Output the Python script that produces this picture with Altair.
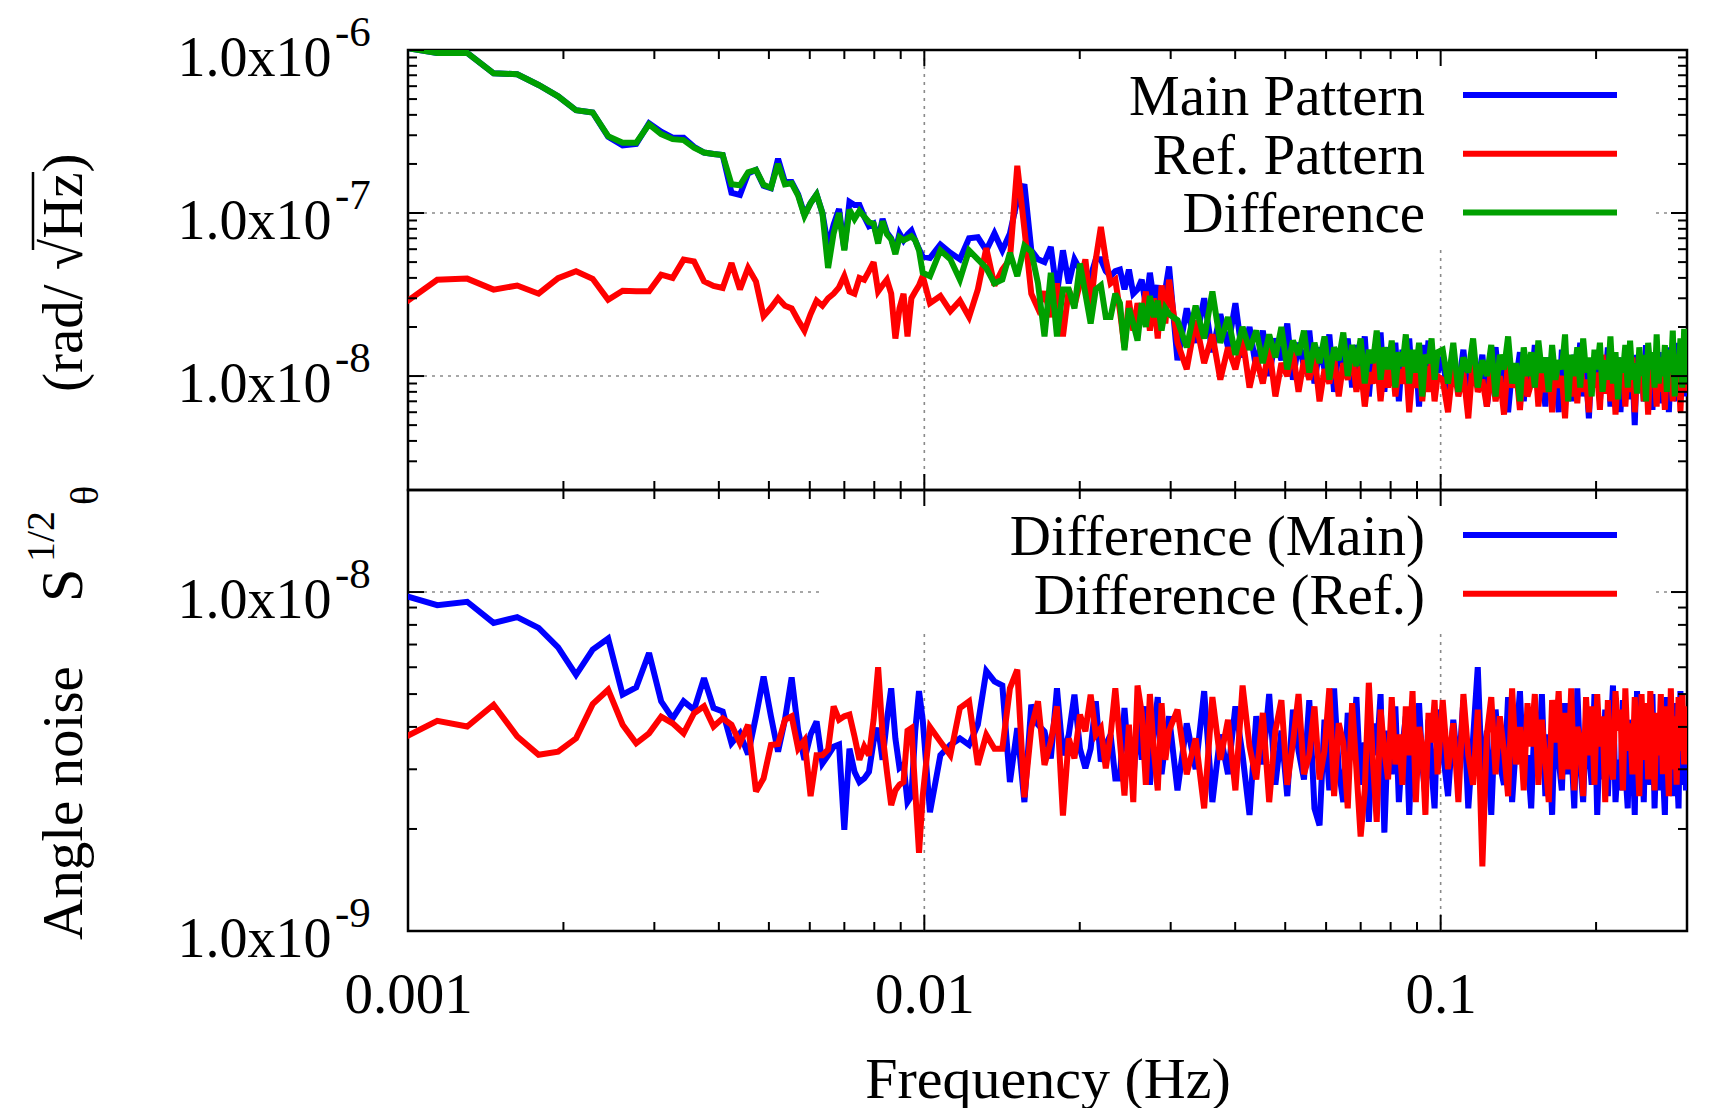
import altair as alt
import pandas as pd

FONT = "Liberation Serif"

# ---------------- data ----------------
# FFT bin spacing of the spectra (Hz) and the bins that are plotted
BIN_HZ = 1.0 / 6144.0
BINS = (list(range(6, 62)) + list(range(63, 184, 3)) + list(range(190, 607, 8))
        + list(range(620, 1836, 15)) + [1845])
FREQ_HZ = [k * BIN_HZ for k in BINS]

TOP_UNIT = 1e-8   # top panel values are in units of 1e-8 rad/sqrt(Hz)
BOT_UNIT = 1e-9   # bottom panel values are in units of 1e-9 rad/sqrt(Hz)

TOP_MAIN = [
    104, 96, 96, 72, 71, 61, 52, 42.7, 41.4, 29.4,
    26, 26.5, 35.5, 31.5, 29, 29, 25.5, 23.5, 23, 22.7,
    13.3, 12.9, 17.5, 18.4, 14.7, 14.2, 21.5, 15.5, 15.5, 13,
    9.8, 11.5, 13, 10, 6.2, 8.5, 10.6, 6.0, 11.7, 11.2,
    11.2, 9.5, 8.3, 8.6, 6.8, 9.2, 7.6, 7.0, 5.8, 7.5,
    6.8, 7.4, 7.8, 6.8, 6.0, 5.4,
    5.3, 6.4, 5.7, 5.2, 7.0, 7.1, 5.9, 7.5, 5.9, 7.5,
    12, 15, 5.9, 5.2, 5.0, 6.2, 3.2, 5.9, 3.7, 5.2,
    4.5, 3.7, 4.1, 5.2, 5.2, 4.4, 4.1, 4.4, 4.5, 3.4,
    4.5, 3.2, 3.4, 3.9, 2.7, 4.3, 2.9, 3.6, 2.5, 3.4,
    4.7,
    1.25, 2.6, 1.6, 3.0, 1.4, 2.4, 1.5, 2.8, 1.3, 2.0,
    1.1, 1.9, 1.0, 1.7, 1.25, 2.1, 0.95, 1.6, 1.15, 1.9,
    0.9, 1.5, 1.1, 1.8, 0.8, 1.45, 1.2, 1.7, 0.85, 1.55,
    1.05, 1.75, 0.75, 1.4, 1.15, 1.85, 0.8, 1.5, 1.0, 1.6,
    0.7, 1.45, 1.1, 1.7, 0.85, 1.35, 0.65, 1.55, 1.0, 1.65,
    0.8, 1.4, 1.05,
    1.3, 0.75, 1.15, 0.85, 1.45, 0.7, 1.2, 0.9, 1.35, 0.65,
    1.05, 1.5, 0.8, 1.2, 0.6, 1.1, 0.95, 1.4, 0.7, 1.25,
    0.85, 1.55, 0.75, 1.1, 0.65, 1.3, 0.9, 1.2, 0.6, 1.45,
    0.8, 1.15, 0.7, 1.35, 0.95, 1.6, 0.75, 1.05, 0.55, 1.25,
    0.85, 1.4, 0.7, 1.2, 0.9, 1.5, 0.65, 1.1, 0.8, 1.3,
    0.6, 1.25, 0.9, 1.45, 0.72, 1.15, 0.5, 1.35, 0.85, 1.2,
    0.7, 1.55, 0.8, 1.1, 0.62, 1.3, 0.9, 1.4, 0.68, 1.2,
    0.85, 1.5, 0.6, 1.15, 0.95, 1.35, 0.7, 1.6, 0.8, 1.25,
    0.75, 1.45, 1.1,
]

TOP_REF = [
    2.75, 3.9, 3.96, 3.39, 3.59, 3.2, 3.99, 4.39, 3.95, 2.94,
    3.34, 3.31, 3.31, 4.19, 4.0, 5.18, 5.05, 3.81, 3.57, 3.47,
    4.93, 3.4, 4.6, 3.8, 2.33, 2.62, 3.0, 2.7, 2.6, 2.2,
    1.9, 2.4, 2.9, 2.7, 3.0, 3.2, 3.5, 4.1, 3.3, 3.2,
    4.0, 3.9, 4.4, 5.0, 3.3, 3.6, 3.9, 3.2, 1.7, 2.6,
    3.2, 1.75, 3.0, 3.3, 3.6, 4.1,
    2.8, 3.1, 2.5, 2.9, 2.3, 3.4, 6.1, 3.6, 4.5, 5.2,
    19.5, 8.0, 3.2, 2.6, 3.3, 2.3, 3.7, 1.75, 3.4, 2.7,
    3.7, 5.2, 2.6, 5.2, 8.2, 5.2, 3.7, 3.9, 2.5, 1.5,
    2.9, 1.9, 2.8, 2.2, 3.3, 1.9, 3.0, 1.7, 3.6, 2.1,
    3.9,
    1.6, 1.1, 2.2, 1.2, 1.8, 0.95, 1.5, 1.1, 1.7, 0.85,
    1.3, 0.9, 1.5, 0.75, 1.2, 1.0, 1.4, 0.8, 1.25, 0.95,
    1.35, 0.7, 1.1, 0.9, 1.3, 0.75, 1.2, 0.95, 1.4, 0.8,
    1.15, 0.65, 1.05, 0.9, 1.3, 0.7, 1.2, 0.85, 1.35, 0.75,
    1.1, 0.9, 1.25, 0.6, 1.05, 0.85, 1.3, 0.7, 1.15, 0.8,
    1.2, 0.7, 1.0,
    0.95, 0.6, 1.2, 0.75, 1.05, 0.55, 1.3, 0.8, 0.95, 0.65,
    1.15, 0.7, 1.0, 0.58, 1.25, 0.85, 1.1, 0.62, 1.2, 0.75,
    0.9, 1.35, 0.65, 1.05, 0.8, 1.2, 0.6, 1.15, 0.85, 1.0,
    0.55, 1.25, 0.75, 1.1, 0.68, 1.3, 0.8, 0.95, 0.6, 1.2,
    0.85, 1.05, 0.62, 1.35, 0.78, 1.15, 0.7, 1.25, 0.58, 1.0,
    0.9, 1.2, 0.65, 1.1, 0.8, 1.3, 0.6, 1.05, 0.85, 1.2,
    0.7, 1.15, 0.58, 1.25, 0.9, 1.05, 0.65, 1.3, 0.8, 1.1,
    0.62, 1.2, 0.85, 1.0, 0.7, 1.35, 0.75, 1.15, 0.6, 1.25,
    0.9, 1.4, 0.8,
]

TOP_DIFF = [
    104, 96, 96, 72, 71, 61, 52, 42.7, 41.4, 29.6,
    27, 27, 35, 30.5, 28.4, 28, 25.2, 23.5, 23, 22.7,
    15, 14.8, 17.8, 18.4, 14.9, 14.3, 20, 15, 15.2, 12.8,
    9.6, 11.5, 13, 10, 4.6, 7.5, 10, 5.9, 10.5, 9.2,
    10.3, 9.5, 8.8, 8.6, 6.5, 8.9, 7.4, 6.9, 5.6, 7.1,
    6.8, 7.0, 7.2, 6.8, 5.9, 4.3,
    4.1, 5.9, 5.2, 3.9, 5.9, 5.2, 4.6, 3.7, 3.9, 5.7,
    4.1, 6.3, 5.8, 3.7, 1.75, 4.3, 1.75, 3.4, 3.4, 2.6,
    4.9, 3.2, 2.1, 3.4, 3.6, 2.3, 2.3, 3.2, 2.8, 1.44,
    2.6, 2.1, 1.65, 2.8, 2.0, 3.1, 2.3, 2.9, 1.9, 2.6,
    2.4,
    2.2, 1.5, 2.7, 1.7, 3.3, 1.6, 2.3, 1.35, 2.0, 1.45,
    1.9, 1.2, 1.8, 1.3, 2.0, 1.1, 1.65, 1.35, 1.9, 1.05,
    1.6, 1.2, 1.75, 0.95, 1.5, 1.25, 1.85, 1.0, 1.55, 1.15,
    1.7, 0.9, 1.45, 1.2, 1.9, 0.95, 1.5, 1.1, 1.65, 0.85,
    1.4, 1.15, 1.8, 0.9, 1.45, 1.05, 1.6, 0.75, 1.35, 1.2,
    1.7, 0.95, 1.4,
    1.45, 0.9, 1.6, 0.8, 1.3, 1.05, 1.7, 0.85, 1.25, 1.0,
    1.55, 0.75, 1.35, 1.1, 1.75, 0.9, 1.2, 0.7, 1.5, 1.0,
    1.4, 0.85, 1.65, 1.05, 1.3, 0.8, 1.55, 0.95, 1.25, 1.1,
    1.8, 0.7, 1.35, 1.0, 1.5, 0.85, 1.7, 1.05, 1.3, 0.75,
    1.45, 1.1, 1.6, 0.8, 1.25, 0.95, 1.75, 0.9, 1.4, 0.72,
    1.3, 1.05, 1.55, 0.85, 1.65, 0.95, 1.2, 0.78, 1.5, 1.0,
    1.35, 0.7, 1.6, 1.1, 1.4, 0.85, 1.8, 0.9, 1.3, 1.0,
    1.55, 0.8, 1.45, 1.05, 1.9, 0.75, 1.35, 1.0, 1.7, 0.85,
    1.95, 0.9, 1.2,
]

BOT_MAIN = [
    9.8, 9.15, 9.36, 8.11, 8.43, 7.84, 6.87, 5.7, 6.76, 7.29,
    4.98, 5.23, 6.61, 4.76, 4.24, 4.76, 4.49, 5.57, 4.55, 4.44,
    3.58, 3.83, 3.32, 4.3, 5.63, 4.3, 3.38, 4.2, 5.6, 3.9,
    3.2, 3.8, 4.15, 3.12, 3.3, 3.5, 3.55, 1.99, 3.45, 2.95,
    2.75, 2.82, 2.95, 3.63, 3.97, 3.2, 4.2, 5.2, 3.7, 3.03,
    3.1, 2.4, 2.5, 3.9, 5.1, 4.2,
    2.24, 3.3, 3.54, 3.7, 3.54, 4.06, 5.85, 5.45, 5.3, 2.75,
    3.97, 2.4, 4.65, 4.06, 3.88, 3.23, 5.2, 3.3, 3.79, 4.98,
    3.45, 3.02, 3.45, 4.76, 3.16, 3.54, 3.79, 2.82, 2.82, 4.55,
    3.09, 2.75, 4.25, 3.2, 4.6, 2.7, 3.9, 4.9, 2.9, 3.6,
    4.3,
    2.6, 4.1, 3.0, 5.1, 2.4, 3.8, 2.9, 4.6, 3.3, 2.2,
    4.3, 3.1, 5.0, 2.7, 3.9, 2.5, 4.5, 3.4, 2.8, 4.8,
    2.3, 2.05, 4.2, 2.6, 5.2, 3.0, 2.4, 4.4, 3.2, 4.9,
    2.7, 3.6, 2.1, 4.1, 3.3, 5.0, 1.95, 3.9, 2.9, 4.6,
    2.4, 3.5, 4.3, 2.2, 3.8, 2.8, 4.7, 3.1, 2.5, 4.2,
    3.0, 2.3, 4.5,
    3.4, 2.5, 4.2, 2.9, 4.8, 2.3, 3.7, 6.0, 2.6, 3.9,
    2.2, 4.5, 3.1, 2.7, 4.9, 2.4, 3.6, 5.1, 2.8, 3.3,
    2.3, 4.4, 3.0, 5.0, 2.5, 3.8, 2.2, 4.6, 3.2, 2.6,
    4.7, 2.9, 3.5, 2.3, 5.2, 3.1, 2.4, 4.3, 3.4, 2.7,
    5.0, 2.2, 3.9, 2.8, 4.5, 2.5, 3.7, 5.3, 2.4, 3.2,
    2.6, 4.8, 3.0, 2.3, 4.2, 3.5, 2.2, 5.1, 2.9, 3.6,
    2.4, 4.6, 3.2, 2.7, 5.0, 2.3, 3.8, 2.6, 4.4, 3.0,
    2.2, 4.9, 2.8, 3.6, 2.5, 4.7, 3.1, 2.3, 5.1, 2.7,
    3.9, 2.6, 4.4,
]

BOT_REF = [
    3.7, 4.17, 4.01, 4.65, 3.75, 3.31, 3.38, 3.7, 4.67, 5.15,
    4.06, 3.58, 3.83, 4.29, 4.1, 3.83, 4.39, 4.6, 4.01, 4.24,
    4.06, 3.58, 4.06, 2.58, 2.82, 3.54, 3.56, 4.2, 4.3, 3.45,
    3.65, 2.5, 3.3, 3.3, 3.43, 4.6, 4.2, 4.3, 4.35, 3.75,
    3.2, 3.5, 3.3, 4.2, 6.0, 3.8, 2.95, 2.35, 2.6, 2.7,
    2.75, 3.9, 3.97, 2.6, 1.7, 2.5,
    4.0, 3.62, 3.3, 4.55, 4.76, 3.09, 3.79, 3.45, 3.45, 5.2,
    5.9, 2.48, 3.97, 4.76, 3.09, 3.62, 4.6, 2.19, 3.7, 3.23,
    4.35, 3.88, 4.98, 3.79, 3.97, 3.02, 3.79, 5.2, 3.62, 2.51,
    4.06, 2.4, 5.3, 4.4, 2.7, 5.0, 3.4, 2.6, 4.7, 3.2,
    3.9,
    4.5, 2.9, 3.7, 2.3, 4.9, 3.2, 4.2, 2.6, 5.3, 3.5,
    2.8, 4.4, 2.4, 3.9, 4.8, 2.7, 3.6, 5.0, 2.9, 3.3,
    4.6, 2.8, 3.4, 5.2, 2.5, 4.1, 3.6, 2.3, 4.7, 3.0,
    1.9, 2.6, 5.4, 3.2, 2.1, 4.5, 3.4, 2.8, 4.9, 3.1,
    3.8, 2.7, 4.6, 3.3, 5.1, 2.4, 4.0, 3.5, 2.2, 4.4,
    3.6, 4.8, 2.9,
    4.8, 3.0, 4.1, 2.4, 5.0, 3.3, 2.7, 4.5, 1.55, 3.8,
    4.9, 2.9, 4.3, 3.4, 2.5, 5.2, 3.1, 4.0, 2.6, 4.7,
    3.5, 5.0, 2.7, 4.2, 3.2, 2.4, 4.8, 3.6, 5.1, 2.8,
    4.4, 3.0, 5.2, 2.6, 4.0, 3.7, 2.5, 4.9, 3.3, 4.6,
    2.7, 5.0, 3.5, 4.3, 2.4, 4.8, 3.1, 2.8, 5.1, 3.9,
    4.5, 2.6, 5.2, 3.4, 4.1, 2.9, 4.9, 3.6, 2.5, 5.0,
    3.2, 4.7, 2.8, 5.1, 3.8, 2.6, 4.4, 3.3, 5.0, 2.9,
    4.6, 3.5, 2.5, 5.2, 3.0, 4.3, 2.7, 4.9, 3.4, 5.0,
    3.1, 4.6, 3.8,
]

TOP_NAMES = ["Main Pattern", "Ref. Pattern", "Difference"]
TOP_COLORS = ["#0000ff", "#ff0000", "#00a000"]
BOT_NAMES = ["Difference (Main)", "Difference (Ref.)"]
BOT_COLORS = ["#0000ff", "#ff0000"]

X_MAJOR = [0.001, 0.01, 0.1]
X_MINOR = [0.002, 0.003, 0.004, 0.005, 0.006, 0.007, 0.008, 0.009,
           0.02, 0.03, 0.04, 0.05, 0.06, 0.07, 0.08, 0.09, 0.2]
Y_TOP_MAJOR = [1e-6, 1e-7, 1e-8]
Y_TOP_EXP = ["-6", "-7", "-8"]
Y_TOP_MINOR = [3e-9, 4e-9, 5e-9, 6e-9, 7e-9, 8e-9, 9e-9,
               2e-8, 3e-8, 4e-8, 5e-8, 6e-8, 7e-8, 8e-8, 9e-8,
               2e-7, 3e-7, 4e-7, 5e-7, 6e-7, 7e-7, 8e-7, 9e-7]
Y_BOT_MAJOR = [1e-8, 1e-9]
Y_BOT_EXP = ["-8", "-9"]
Y_BOT_MINOR = [2e-9, 3e-9, 4e-9, 5e-9, 6e-9, 7e-9, 8e-9, 9e-9]
TOP_GRID_Y = [1e-7, 1e-8]
BOT_GRID_Y = [1e-8]
GRID_X = [0.01, 0.1]

# ---------------- layout / style ----------------
W = 1279
H_TOP = 440
H_BOT = 441
TICK_MAJOR = 16
TICK_MINOR = 9
LINE_W = 6
LEG_FONT = 57
LEG_TEXT_X = 1017
LEG_LINE_X0 = 1055
LEG_LINE_X1 = 1209
LEG_Y0 = 45
LEG_DY = 58.7

X_SCALE = alt.Scale(type="log", domain=[0.001, 0.3], nice=False)
Y_TOP_SCALE = alt.Scale(type="log", domain=[2e-9, 1e-6], nice=False)
Y_BOT_SCALE = alt.Scale(type="log", domain=[1e-9, 2e-8], nice=False)

DUMMY = pd.DataFrame({"d": [0]})


def y_axis(values):
    return alt.Axis(values=values, labelExpr="'1.0x10'", labelFont=FONT,
                    labelFontSize=56, labelColor="black", labelPadding=77,
                    labelOffset=8, labelBaseline="middle", ticks=False,
                    tickSize=0, domain=False, grid=False, title=None,
                    labelOverlap=False)


X_AXIS_BOT = alt.Axis(values=X_MAJOR, format="~g", labelFont=FONT,
                      labelFontSize=57, labelColor="black", labelPadding=36,
                      labelFlush=False, labelOverlap=False, ticks=False,
                      tickSize=0, domain=False, grid=False,
                      title="Frequency (Hz)", titleFont=FONT,
                      titleFontSize=58, titleFontWeight="normal",
                      titleColor="black", titlePadding=28)


def series_df(vals, unit):
    assert len(vals) == len(FREQ_HZ), (len(vals), len(FREQ_HZ))
    return pd.DataFrame({"f": FREQ_HZ, "v": [x * unit for x in vals]})


def panel(series, unit, colors, names, yscale, yaxis, xaxis, grid_y,
          ymajor, yexp, yminor, height, box):
    X = lambda: alt.X("f:Q", scale=X_SCALE, axis=xaxis)
    Y = lambda: alt.Y("v:Q", scale=yscale, axis=yaxis)
    layers = []
    # dotted grid
    layers.append(alt.Chart(pd.DataFrame({"v": grid_y})).mark_rule(
        color="#8a8a8a", strokeWidth=1.6, strokeDash=[3, 5]).encode(
        y=Y(), x=alt.value(0), x2=alt.value(W)))
    layers.append(alt.Chart(pd.DataFrame({"f": GRID_X})).mark_rule(
        color="#8a8a8a", strokeWidth=1.6, strokeDash=[3, 5]).encode(
        x=X(), y=alt.value(0), y2=alt.value(height)))
    # opaque key box
    layers.append(alt.Chart(DUMMY).mark_rect(color="white").encode(
        x=alt.value(box[0]), x2=alt.value(box[1]),
        y=alt.value(box[2]), y2=alt.value(box[3])))
    # data
    for vals, col in zip(series, colors):
        layers.append(alt.Chart(series_df(vals, unit)).mark_line(
            color=col, strokeWidth=LINE_W, clip=True,
            strokeJoin="miter", strokeMiterLimit=3).encode(x=X(), y=Y()))
    # key
    for i, (name, col) in enumerate(zip(names, colors)):
        yl = LEG_Y0 + LEG_DY * i
        layers.append(alt.Chart(DUMMY).mark_text(
            align="right", baseline="alphabetic", font=FONT,
            fontSize=LEG_FONT, color="black").encode(
            x=alt.value(LEG_TEXT_X), y=alt.value(yl + 20),
            text=alt.value(name)))
        layers.append(alt.Chart(DUMMY).mark_rule(
            color=col, strokeWidth=LINE_W).encode(
            x=alt.value(LEG_LINE_X0), x2=alt.value(LEG_LINE_X1),
            y=alt.value(yl)))
    # inward ticks on all four sides
    for vals, ln in ((ymajor, TICK_MAJOR), (yminor, TICK_MINOR)):
        df = pd.DataFrame({"v": vals})
        layers.append(alt.Chart(df).mark_rule(color="black", strokeWidth=2).encode(
            y=Y(), x=alt.value(0), x2=alt.value(ln)))
        layers.append(alt.Chart(df).mark_rule(color="black", strokeWidth=2).encode(
            y=Y(), x=alt.value(W - ln), x2=alt.value(W)))
    for vals, ln in ((X_MAJOR, TICK_MAJOR), (X_MINOR, TICK_MINOR)):
        df = pd.DataFrame({"f": vals})
        layers.append(alt.Chart(df).mark_rule(color="black", strokeWidth=2).encode(
            x=X(), y=alt.value(0), y2=alt.value(ln)))
        layers.append(alt.Chart(df).mark_rule(color="black", strokeWidth=2).encode(
            x=X(), y=alt.value(height - ln), y2=alt.value(height)))
    # exponents of the y labels
    layers.append(alt.Chart(pd.DataFrame({"v": ymajor, "e": yexp})).mark_text(
        align="left", baseline="alphabetic", font=FONT, fontSize=43,
        color="black", dy=-4).encode(y=Y(), x=alt.value(-73), text="e:N"))
    return layers


top_layers = panel([TOP_MAIN, TOP_REF, TOP_DIFF], TOP_UNIT, TOP_COLORS,
                   TOP_NAMES, Y_TOP_SCALE, y_axis(Y_TOP_MAJOR), None,
                   TOP_GRID_Y, Y_TOP_MAJOR, Y_TOP_EXP, Y_TOP_MINOR, H_TOP,
                   (610, 1243, 2, 195))

# rotated y title (spans both panels), positioned relative to the top panel
def rot_text(txt, x, y, size):
    return alt.Chart(DUMMY).mark_text(
        align="left", baseline="alphabetic", angle=270, font=FONT,
        fontSize=size, color="black").encode(
        x=alt.value(x), y=alt.value(y), text=alt.value(txt))

top_layers += [
    rot_text("Angle noise", -326, 890, 57),
    rot_text("S", -326, 552, 60),
    rot_text("1/2", -354, 512, 40),
    rot_text("\u03b8", -310, 455, 40),
    rot_text("(rad/ \u221aHz)", -326, 342, 57),
    alt.Chart(DUMMY).mark_rule(color="black", strokeWidth=2.5).encode(
        x=alt.value(-375), y=alt.value(122), y2=alt.value(200)),
]

bot_layers = panel([BOT_MAIN, BOT_REF], BOT_UNIT, BOT_COLORS, BOT_NAMES,
                   Y_BOT_SCALE, y_axis(Y_BOT_MAJOR), X_AXIS_BOT, BOT_GRID_Y,
                   Y_BOT_MAJOR, Y_BOT_EXP, Y_BOT_MINOR, H_BOT,
                   (415, 1243, 2, 139))

top = alt.layer(*top_layers).properties(width=W, height=H_TOP)
bot = alt.layer(*bot_layers).properties(width=W, height=H_BOT)

chart = alt.vconcat(top, bot, spacing=0, bounds="flush").properties(
    padding={"left": 12, "top": 2, "right": 10, "bottom": 0},
    background="white",
).configure_view(stroke="black", strokeWidth=2.5)

chart.save("out.html", embed_options={"renderer": "svg", "actions": False})
